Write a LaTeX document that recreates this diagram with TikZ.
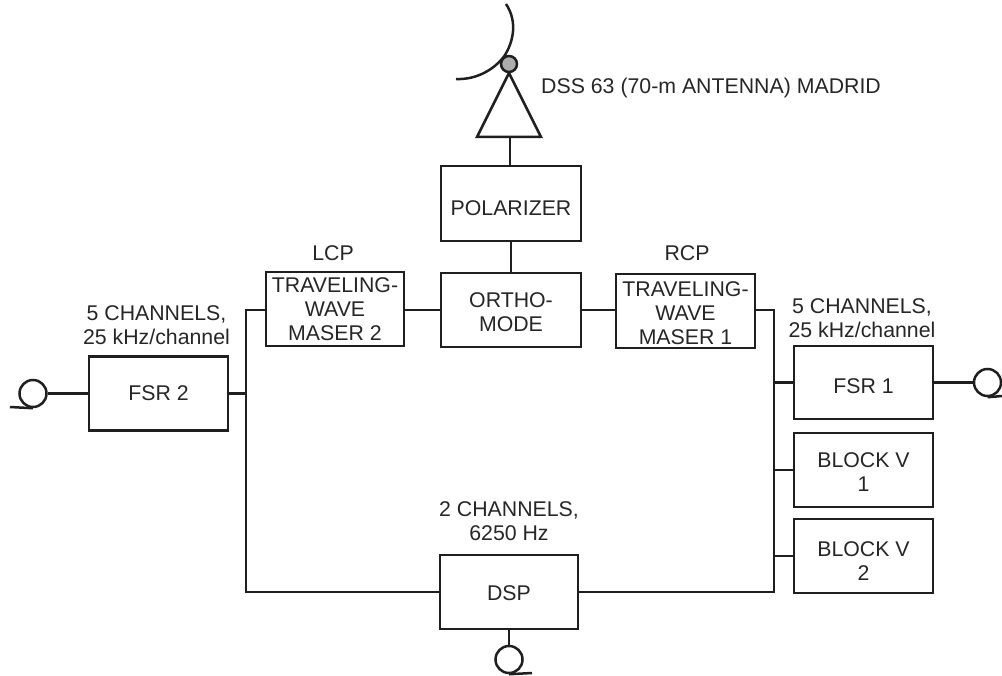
\documentclass[tikz,border=0pt]{standalone}
\usepackage{fontspec}
\setmainfont{Liberation Sans}
\newcommand{\lowered}[1]{\rule{0pt}{#1pt}}
\begin{document}
\begin{tikzpicture}[x=1pt,y=-1pt,
  ink/.style={draw=black!88,line width=2.5pt},
  thinink/.style={draw=black!88,line width=2.1pt},
  blockbox/.style={draw=black!88,line width=2.8pt,rectangle,inner sep=0pt,align=center,font=\fontsize{21.3}{24}\selectfont,text=black!85},
  lab/.style={inner sep=0pt,align=center,font=\fontsize{21.3}{24}\selectfont,text=black!85},
  feed/.style={ink,circle,inner sep=0pt,minimum size=27pt}]
\useasboundingbox (0,0) rectangle (1002,676);
\newcommand{\blk}[6]{\node[blockbox,minimum width=#3pt,minimum height=#4pt] (#5) at (#1,#2) {#6};}
\blk{511}{203.5}{140}{75}{pol}{\lowered{23.5}POLARIZER}
\blk{511}{310}{140}{74}{ort}{\lowered{18.5}ORTHO-\\MODE}
\blk{335}{309}{138}{74}{tw2}{TRAVELING-\\WAVE\\MASER 2}
\blk{685.5}{311}{139}{74}{tw1}{\lowered{19.5}TRAVELING-\\WAVE\\MASER 1}
\blk{158.5}{393.5}{139}{74}{fsr2}{FSR 2}
\blk{863.5}{382.5}{139}{73}{fsr1}{\lowered{21.5}FSR 1}
\blk{863.5}{470}{139}{74}{bv1}{\lowered{19.5}BLOCK V\\1}
\blk{863.5}{556}{139}{74}{bv2}{\lowered{25.5}BLOCK V\\2}
\blk{509}{592}{138}{74}{dsp}{\lowered{17.5}DSP}
% antenna
\coordinate (apex) at (509,73);
\coordinate (bl) at (477,137);
\coordinate (br) at (541,137);
\draw[ink,line join=miter] (apex) -- (bl) -- (br) -- cycle;
\coordinate (stem) at (510,137);
\draw[ink] (stem) -- (stem |- pol.north);
\draw[ink] (456,79) .. controls (478,80) and (496,68) .. (505,55) .. controls (513,42) and (518,22) .. (506,4);
\node[ink,circle,fill=black!32,inner sep=0pt,minimum size=16pt] (horn) at (509,64) {};
\node[lab,anchor=west] (dss) at (541,88) {DSS 63 (70-m ANTENNA) MADRID};
\draw[ink] (pol) -- (ort);
\draw[ink] (ort.west) -- (ort.west -| tw2.east);
\draw[ink] (ort.east) -- (ort.east -| tw1.west);
% left bus
\coordinate (ltop) at (246,310);
\coordinate (lbot) at (246,592);
\draw[ink] (tw2.west |- ltop) -- (ltop) -- (lbot) -- (dsp.west |- lbot);
\draw[ink] (fsr2.east) -- (fsr2.east -| ltop);
% right bus
\coordinate (rtop) at (774,310);
\coordinate (rbot) at (774,592);
\draw[ink] (tw1.east |- rtop) -- (rtop) -- (rbot) -- (dsp.east |- rbot);
\draw[ink] (fsr1.west) -- (fsr1.west -| rtop);
\draw[ink] (bv1.west) -- (bv1.west -| rtop);
\draw[ink] (bv2.west) -- (bv2.west -| rtop);
% feeds
\node[feed] (fl) at (33,393.5) {};
\draw[thinink] (fl) -- (fsr2.west);
\coordinate (flt) at (10,407);
\draw[ink] (flt) -- (fl.south);
\node[feed] (fr) at (987.5,382.5) {};
\draw[thinink] (fsr1.east) -- (fr);
\coordinate (frt) at (1002,396);
\draw[ink] (fr.south) -- (frt);
\node[feed] (fb) at (509,659.5) {};
\draw[ink] (dsp.south) -- (fb);
\coordinate (fbt) at (532,673);
\draw[ink] (fb.south) -- (fbt);
% labels
\node[lab] (lcp) at (333,253) {LCP};
\node[lab] (rcp) at (687,253) {RCP};
\node[lab] (c5l) at (156.5,325) {5 CHANNELS,\\25 kHz/channel};
\node[lab] (c5r) at (862,318) {5 CHANNELS,\\25 kHz/channel};
\node[lab] (c2) at (509,521) {2 CHANNELS,\\6250 Hz};
\end{tikzpicture}
\end{document}
